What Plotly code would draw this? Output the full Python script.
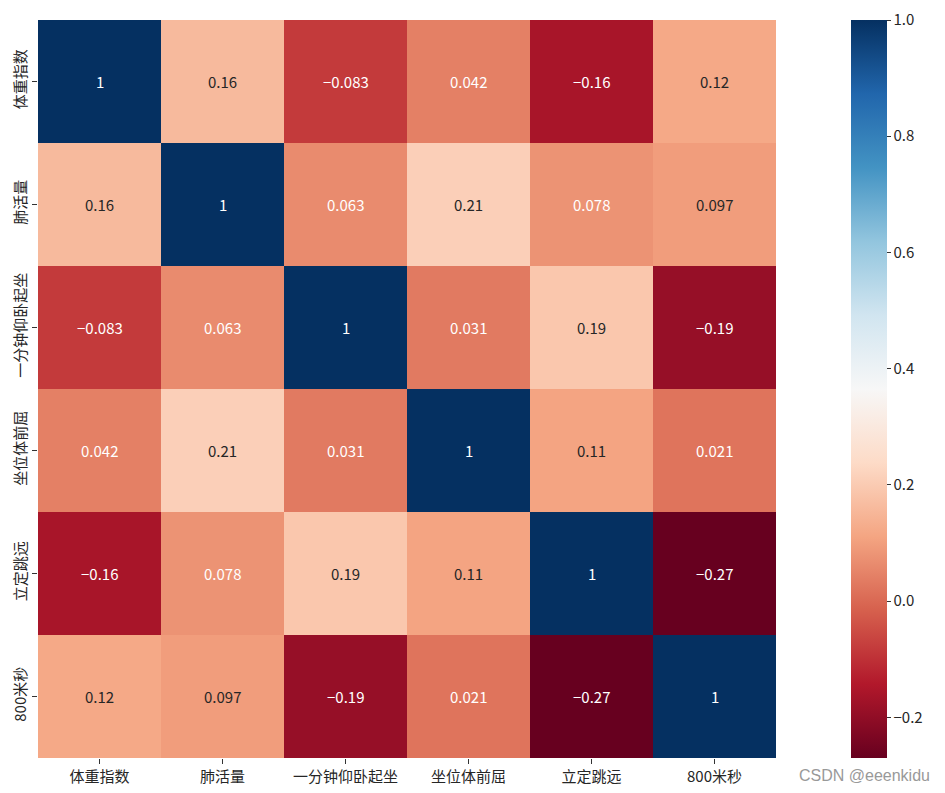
import plotly.graph_objects as go

labels = ["体重指数", "肺活量", "一分钟仰卧起坐", "坐位体前屈", "立定跳远", "800米秒"]
corr = [
    [1, 0.16, -0.083, 0.042, -0.16, 0.12],
    [0.16, 1, 0.063, 0.21, 0.078, 0.097],
    [-0.083, 0.063, 1, 0.031, 0.19, -0.19],
    [0.042, 0.21, 0.031, 1, 0.11, 0.021],
    [-0.16, 0.078, 0.19, 0.11, 1, -0.27],
    [0.12, 0.097, -0.19, 0.021, -0.27, 1],
]
zmin, zmax = -0.27, 1.0
cbar_ticks = [-0.2, 0.0, 0.2, 0.4, 0.6, 0.8, 1.0]

rdbu = ["#67001f", "#b2182b", "#d6604d", "#f4a582", "#fddbc7", "#f7f7f7",
        "#d1e5f0", "#92c5de", "#4393c3", "#2166ac", "#053061"]
colorscale = [[i / (len(rdbu) - 1), c] for i, c in enumerate(rdbu)]

FONT = "SimHei, 'Noto Sans CJK SC', sans-serif"

fig = go.Figure(go.Heatmap(
    z=corr, x=labels, y=labels, zmin=zmin, zmax=zmax,
    colorscale=colorscale, showscale=True,
    colorbar=dict(
        x=(851 - 38) / 738, xanchor="left", xref="paper", xpad=0, ypad=0,
        y=0.5, yanchor="middle", len=1, lenmode="fraction",
        thickness=36, outlinewidth=0,
        tickvals=cbar_ticks, ticktext=[f"{t:.1f}".replace("-", "\u2212") for t in cbar_ticks],
        ticks="outside", ticklen=4, tickcolor="#333", tickwidth=1,
        tickfont=dict(family=FONT, size=15, color="#262626"),
    ),
    hoverinfo="skip",
))

for i, row in enumerate(corr):
    for j, v in enumerate(row):
        txt = ("%g" % v).replace("-", "\u2212")
        col = "white" if (v < 0.09 or v > 0.5) else "#262626"
        fig.add_annotation(x=labels[j], y=labels[i], text=txt, showarrow=False,
                           font=dict(family=FONT, size=15, color=col))

fig.add_annotation(xref="paper", yref="paper", x=(932 - 38) / 738, y=-(775 - 758) / 738,
                   xanchor="right", yanchor="middle", text="CSDN @eeenkidu", showarrow=False,
                   font=dict(family="Arial, 'Liberation Sans', sans-serif", size=16, color="#999999"))

fig.update_layout(
    width=929, height=777,
    margin=dict(l=30, r=161, t=12, b=27, autoexpand=False),
    paper_bgcolor="white", plot_bgcolor="white",
    xaxis=dict(ticks="outside", ticklen=5, tickcolor="#333", showgrid=False, zeroline=False,
               automargin=False,
               tickfont=dict(family=FONT, size=15, color="#262626")),
    yaxis=dict(autorange="reversed", ticks="outside", ticklen=5, tickcolor="#333", showgrid=False,
               zeroline=False, tickangle=-90, automargin=False,
               tickfont=dict(family=FONT, size=15, color="#262626")),
    showlegend=False,
)

fig.write_html("out.html")
